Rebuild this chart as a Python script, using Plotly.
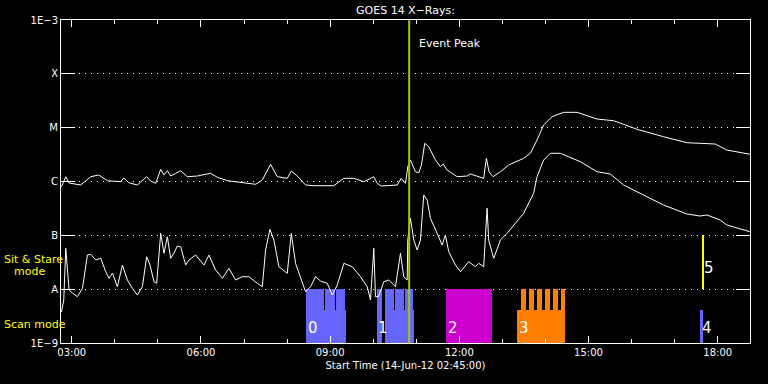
import numpy as np
import plotly.graph_objects as go

# ---------------- data (hours of 14-Jun-2012, log10 flux W/m^2) ----------------
long_t = [2.761, 2.861, 2.937, 3.209, 3.441, 3.626, 3.828, 4.137, 4.206, 4.323, 4.524, 4.740, 4.833,
          4.949, 5.065, 5.142, 5.220, 5.297, 5.413, 5.529, 5.684, 5.916, 6.225, 6.381, 6.613, 6.921,
          7.269, 7.425, 7.524, 7.617, 7.687, 7.773, 8.005, 8.097, 8.237, 8.429, 8.622, 9.086, 9.318,
          9.550, 9.782, 10.014, 10.093, 10.186, 10.557, 10.650, 10.750, 10.803, 10.865, 10.981, 11.058,
          11.121, 11.197, 11.290, 11.445, 11.561, 11.624, 11.717, 11.949, 12.181, 12.258, 12.566,
          12.629, 12.691, 12.784, 12.954, 13.146, 13.494, 13.650, 13.805, 13.958, 14.153, 14.422,
          14.733, 15.197, 15.582, 15.814, 16.125, 16.742, 17.285, 17.942, 18.213, 18.754]
long_logf = [-6.097, -5.911, -6.028, -6.065, -5.911, -5.879, -5.985, -6.004, -5.935, -6.022, -6.065,
             -5.911, -5.991, -6.034, -5.774, -5.879, -5.800, -5.898, -5.848, -5.800, -5.911, -5.898,
             -5.848, -5.922, -5.985, -6.022, -6.052, -5.972, -5.824, -5.681, -5.787, -5.911, -5.941,
             -5.805, -5.898, -6.065, -6.078, -6.078, -5.941, -5.941, -6.004, -5.911, -6.034, -6.084,
             -6.065, -5.941, -6.034, -5.725, -5.601, -5.818, -5.837, -5.694, -5.291, -5.354, -5.601,
             -5.725, -5.675, -5.787, -5.911, -5.898, -5.861, -5.941, -5.569, -5.824, -5.911, -5.818,
             -5.694, -5.569, -5.476, -5.229, -4.951, -4.796, -4.715, -4.715, -4.839, -4.871, -4.938,
             -5.030, -5.168, -5.279, -5.304, -5.415, -5.495]

short_t = [2.761, 2.814, 2.861, 2.937, 3.016, 3.132, 3.248, 3.364, 3.441, 3.557, 3.673, 3.789, 3.865,
           3.944, 4.060, 4.176, 4.292, 4.408, 4.524, 4.640, 4.740, 4.817, 4.910, 4.972, 5.065, 5.142,
           5.220, 5.297, 5.374, 5.452, 5.529, 5.645, 5.722, 5.877, 6.070, 6.186, 6.341, 6.497, 6.650,
           6.805, 6.961, 7.114, 7.309, 7.425, 7.501, 7.601, 7.694, 7.810, 8.005, 8.097, 8.197, 8.313,
           8.429, 8.545, 8.661, 8.777, 8.933, 9.049, 9.165, 9.318, 9.513, 9.705, 9.861, 9.937, 10.014,
           10.053, 10.123, 10.246, 10.362, 10.517, 10.633, 10.710, 10.789, 10.803, 10.865, 10.942,
           11.021, 11.097, 11.174, 11.253, 11.329, 11.485, 11.601, 11.677, 11.754, 11.910, 12.026,
           12.218, 12.374, 12.450, 12.566, 12.645, 12.682, 12.798, 12.954, 13.109, 13.262, 13.494,
           13.726, 13.805, 13.958, 14.114, 14.346, 14.810, 15.197, 15.506, 15.814, 16.125, 16.742,
           17.285, 17.594, 17.749, 18.058, 18.213, 18.754]
short_logf = [-8.424, -8.202, -7.241, -8.016, -8.072, -8.140, -7.984, -7.366, -7.353, -7.458, -7.427,
              -7.676, -7.798, -7.700, -7.954, -7.551, -7.830, -7.984, -8.109, -7.954, -7.397, -7.551,
              -7.862, -7.891, -6.962, -7.334, -7.026, -7.427, -7.328, -7.198, -7.211, -7.551, -7.458,
              -7.366, -7.551, -7.366, -7.644, -7.798, -7.613, -7.830, -7.769, -7.769, -7.891, -7.954,
              -7.273, -6.888, -7.087, -7.583, -7.706, -6.962, -7.520, -7.798, -8.047, -7.954, -7.769,
              -7.849, -7.891, -8.109, -7.923, -7.520, -7.583, -7.769, -7.954, -8.202, -7.241, -8.140,
              -8.140, -7.862, -7.830, -7.954, -7.334, -7.769, -7.830, -7.087, -6.684, -7.087, -7.273,
              -7.087, -6.251, -6.344, -6.684, -6.962, -7.180, -6.994, -7.304, -7.551, -7.676, -7.490,
              -7.583, -7.520, -7.583, -6.498, -7.087, -7.427, -7.087, -6.962, -6.808, -6.591, -6.219,
              -5.911, -5.601, -5.476, -5.476, -5.632, -5.818, -5.861, -6.065, -6.190, -6.437, -6.604,
              -6.641, -6.622, -6.715, -6.808, -6.933]

# scan-mode / sit & stare observation segments: start, end (hours), top level (log10), colour key
obs_start = [8.429, 8.429, 8.889, 9.144, 10.077, 10.285, 10.285, 10.513, 10.738, 11.700,
             13.348, 13.441, 13.627, 13.812, 13.998, 14.184, 14.369, 17.594]
obs_end = [9.357, 8.866, 9.121, 9.340, 10.193, 10.958, 10.490, 10.715, 10.935, 12.761,
           14.462, 13.550, 13.736, 13.921, 14.107, 14.293, 14.462, 17.664]
obs_top = [-8.387, -8.0, -8.0, -8.0, -8.0, -8.387, -8.0, -8.0, -8.0, -8.0,
           -8.387, -8.0, -8.0, -8.0, -8.0, -8.0, -8.0, -8.387]
obs_col = ["b", "b", "b", "b", "b", "b", "b", "b", "b", "m",
           "o", "o", "o", "o", "o", "o", "o", "b"]
stare_start, stare_end, stare_bottom, stare_top = [17.640], [17.690], [-8.0], [-7.0]

label_text = ["0", "1", "2", "3", "4", "5"]
label_x = [8.43, 10.06, 11.70, 13.35, 17.58, 17.63]
label_y = [-8.93, -8.93, -8.93, -8.93, -8.93, -7.82]

event_peak = 10.835
x_range = [2.75, 18.75]
major_ticks = [3, 6, 9, 12, 15, 18]
major_text = ["03:00", "06:00", "09:00", "12:00", "15:00", "18:00"]
minor_ticks = list(range(3, 19))
y_ticks = [-9, -8, -7, -6, -5, -4, -3]
y_text = ["1E\u22129", "A", "B", "C", "M", "X", "1E\u22123"]

colors = {"b": "#6666ff", "m": "#cc00cc", "o": "#ff8000"}

FONT = "DejaVu Sans"
fig = go.Figure()

# observation bars
for key in ["b", "m", "o"]:
    idx = [i for i, c in enumerate(obs_col) if c == key]
    xs = [(obs_start[i] + obs_end[i]) / 2 for i in idx]
    ws = [obs_end[i] - obs_start[i] for i in idx]
    hs = [obs_top[i] - (-9) for i in idx]
    fig.add_trace(go.Bar(x=xs, y=hs, width=ws, base=[-9] * len(idx),
                         marker=dict(color=colors[key], line=dict(width=0)),
                         showlegend=False, hoverinfo="skip"))
fig.add_trace(go.Bar(x=[(a + b) / 2 for a, b in zip(stare_start, stare_end)],
                     y=[t - b for t, b in zip(stare_top, stare_bottom)],
                     width=[b - a for a, b in zip(stare_start, stare_end)],
                     base=stare_bottom, marker=dict(color="#ffff00", line=dict(width=0)),
                     showlegend=False, hoverinfo="skip"))

# GOES curves
fig.add_trace(go.Scatter(x=long_t, y=long_logf, mode="lines",
                         line=dict(color="white", width=1), showlegend=False))
fig.add_trace(go.Scatter(x=short_t, y=short_logf, mode="lines",
                         line=dict(color="white", width=1), showlegend=False))

# event peak line
fig.add_trace(go.Scatter(x=[event_peak, event_peak], y=[-9, -3], mode="lines",
                         line=dict(color="#99cc00", width=2), showlegend=False))

ann = []
for t, x, y in zip(label_text, label_x, label_y):
    ann.append(dict(x=x, y=y, xref="x", yref="y", text=t, showarrow=False,
                    xanchor="left", yanchor="bottom", font=dict(family=FONT, size=15, color="white")))
ann.append(dict(x=event_peak + 0.18, y=-3.43, xref="x", yref="y", text="Event Peak",
                showarrow=False, xanchor="left", yanchor="middle",
                font=dict(family=FONT, size=11, color="white")))
ann.append(dict(x=(2 - 61) / 689, y=-7.44, xref="paper", yref="y", text="Sit &amp; Stare",
                showarrow=False, xanchor="left", yanchor="middle",
                font=dict(family=FONT, size=11, color="#ffff00")))
ann.append(dict(x=(12 - 61) / 689, y=-7.663, xref="paper", yref="y", text="mode",
                showarrow=False, xanchor="left", yanchor="middle",
                font=dict(family=FONT, size=11, color="#ffff00")))
ann.append(dict(x=(2 - 61) / 689, y=-8.647, xref="paper", yref="y", text="Scan mode",
                showarrow=False, xanchor="left", yanchor="middle",
                font=dict(family=FONT, size=11, color="#ffff00")))

fig.update_layout(
    width=768, height=384,
    margin=dict(l=61, r=18, t=20, b=41),
    paper_bgcolor="black", plot_bgcolor="black",
    barmode="overlay", bargap=0,
    showlegend=False,
    title=dict(text="GOES 14 X\u2212Rays:", x=0.5, xref="paper", y=1 - 10 / 384,
               yanchor="middle", xanchor="center",
               font=dict(family=FONT, size=11, color="white")),
    annotations=ann,
    font=dict(family=FONT, size=10, color="white"),
)
fig.update_xaxes(range=x_range, tickmode="array", tickvals=major_ticks, ticktext=major_text,
                 ticks="inside", ticklen=7, tickcolor="white", tickwidth=1,
                 showline=True, linecolor="white", linewidth=1, mirror="allticks",
                 showgrid=False, zeroline=False,
                 tickfont=dict(family=FONT, size=10, color="white"),
                 minor=dict(tickmode="array", tickvals=minor_ticks, ticks="inside", ticklen=4,
                            tickcolor="white", showgrid=False),
                 title=dict(text="Start Time (14-Jun-12 02:45:00)", standoff=4,
                            font=dict(family=FONT, size=10, color="white")))
fig.update_yaxes(range=[-9, -3], tickmode="array", tickvals=y_ticks, ticktext=y_text,
                 ticks="inside", ticklen=14, tickcolor="white", tickwidth=1,
                 showline=True, linecolor="white", linewidth=1, mirror="allticks",
                 showgrid=True, gridcolor="white", gridwidth=1, griddash="1px,5px",
                 zeroline=False, tickfont=dict(family=FONT, size=10, color="white"))

fig.write_html("out.html")
